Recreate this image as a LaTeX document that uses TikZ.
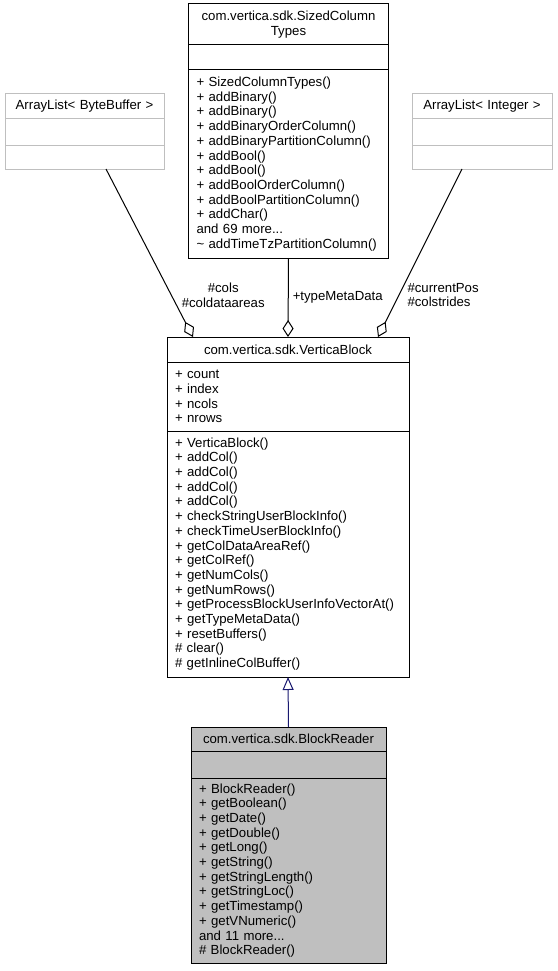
\documentclass[tikz,border=0pt]{standalone}
\usepackage{fontspec}
\setmainfont{Liberation Sans}
\usetikzlibrary{arrows.meta,positioning}
\definecolor{inhblue}{HTML}{191970}
\definecolor{grey75}{HTML}{BFBFBF}

\tikzset{
  umlpart/.style={draw, rectangle, line width=1pt, inner xsep=8pt, inner ysep=0pt,
    outer sep=0pt, anchor=north, font=\fontsize{13.2}{14.7}\selectfont},
  umltitle/.style={umlpart, align=center},
  umlbody/.style={umlpart, align=left},
  extclass/.style={draw=grey75},
  curclass/.style={fill=grey75},
  aggr/.style={line width=1pt, -{Diamond[open,length=17pt,width=11pt]}},
  inherit/.style={draw=inhblue, line width=1pt, -{Triangle[open,length=13pt,width=11pt]}},
  edgelabel/.style={font=\fontsize{13.2}{14.7}\selectfont, inner sep=2pt},
}

\begin{document}
\begin{tikzpicture}[x=1pt,y=-1pt]
  \useasboundingbox (0,0) rectangle (557,971);

  % used classes
  \node[umltitle, text width=184pt, minimum height=41pt] (sized_t) at (288.5,4) {com.vertica.sdk.SizedColumn\\Types};
  \node[umlbody, text width=184pt, minimum height=25pt, below=0pt of sized_t] (sized_a) {};
  \node[umlbody, text width=184pt, minimum height=188pt, below=0pt of sized_a] (sized_m) {+ SizedColumnTypes()\\+ addBinary()\\+ addBinary()\\+ addBinaryOrderColumn()\\+ addBinaryPartitionColumn()\\+ addBool()\\+ addBool()\\+ addBoolOrderColumn()\\+ addBoolPartitionColumn()\\+ addChar()\\and 69 more...\\\textasciitilde{} addTimeTzPartitionColumn()};

  \node[umltitle, extclass, text width=143pt, minimum height=25pt] (bytebuf_t) at (84.5,94) {ArrayList< ByteBuffer >};
  \node[umlbody, extclass, text width=143pt, minimum height=26pt, below=0pt of bytebuf_t] (bytebuf_a) {};
  \node[umlbody, extclass, text width=143pt, minimum height=24pt, below=0pt of bytebuf_a] (bytebuf_m) {};

  \node[umltitle, extclass, text width=124pt, minimum height=25pt] (intlist_t) at (482,94) {ArrayList< Integer >};
  \node[umlbody, extclass, text width=124pt, minimum height=26pt, below=0pt of intlist_t] (intlist_a) {};
  \node[umlbody, extclass, text width=124pt, minimum height=24pt, below=0pt of intlist_a] (intlist_m) {};

  % base class
  \node[umltitle, text width=226pt, minimum height=25pt] (vblock_t) at (288,337) {com.vertica.sdk.VerticaBlock};
  \node[umlbody, text width=226pt, minimum height=69pt, below=0pt of vblock_t] (vblock_a) {+ count\\+ index\\+ ncols\\+ nrows};
  \node[umlbody, text width=226pt, minimum height=246pt, below=0pt of vblock_a] (vblock_m) {+ VerticaBlock()\\+ addCol()\\+ addCol()\\+ addCol()\\+ addCol()\\+ checkStringUserBlockInfo()\\+ checkTimeUserBlockInfo()\\+ getColDataAreaRef()\\+ getColRef()\\+ getNumCols()\\+ getNumRows()\\+ getProcessBlockUserInfoVectorAt()\\+ getTypeMetaData()\\+ resetBuffers()\\\# clear()\\\# getInlineColBuffer()};

  % this class
  \node[umltitle, curclass, text width=179pt, minimum height=24pt] (breader_t) at (288.5,727) {com.vertica.sdk.BlockReader};
  \node[umlbody, curclass, text width=179pt, minimum height=27pt, below=0pt of breader_t] (breader_a) {};
  \node[umlbody, curclass, text width=179pt, minimum height=185pt, below=0pt of breader_a] (breader_m) {+ BlockReader()\\+ getBoolean()\\+ getDate()\\+ getDouble()\\+ getLong()\\+ getString()\\+ getStringLength()\\+ getStringLoc()\\+ getTimestamp()\\+ getVNumeric()\\and 11 more...\\\# BlockReader()};

  \draw[aggr] ([xshift=21.5pt]bytebuf_m.south) -- node[edgelabel, pos=0.75, anchor=west, xshift=8pt, align=center] {\#cols\\\#coldataareas} ([xshift=-95pt]vblock_t.north);
  \draw[aggr] (sized_m.south) -- node[edgelabel, pos=0.5, anchor=west, xshift=2pt] {+typeMetaData} (vblock_t.north);
  \draw[aggr] ([xshift=-20pt]intlist_m.south) -- node[edgelabel, pos=0.75, anchor=west, xshift=6pt, align=left] {\#currentPos\\\#colstrides} ([xshift=90pt]vblock_t.north);

  \draw[inherit] (breader_t.north) -- (vblock_m.south);
\end{tikzpicture}
\end{document}
